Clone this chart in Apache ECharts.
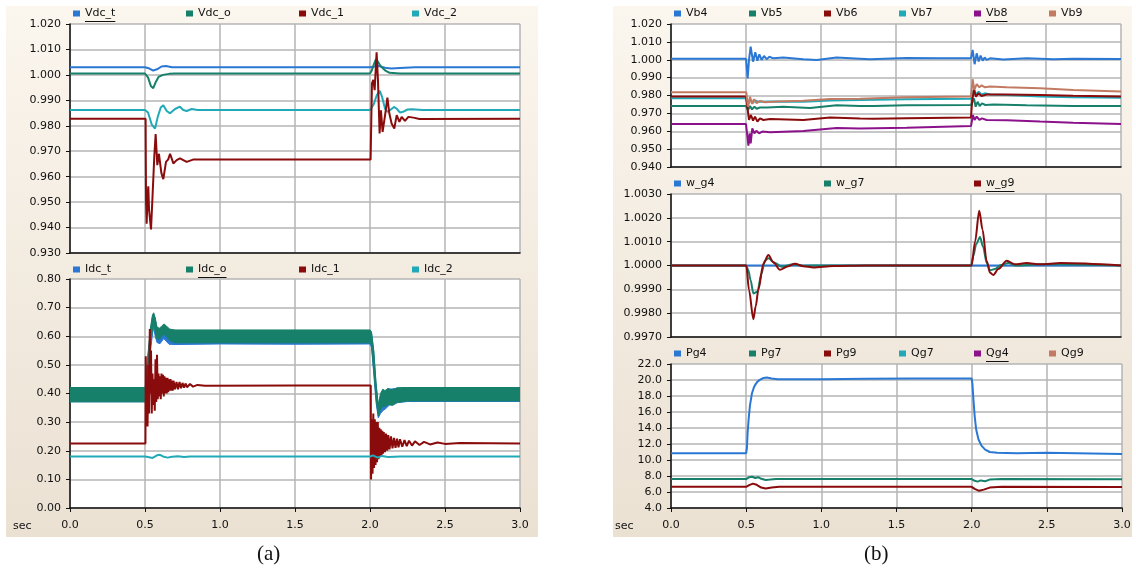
<!DOCTYPE html>
<html>
<head>
<meta charset="utf-8" />
<title>DC and AC quantities, time responses</title>
<script type="text/javascript" src="https://cdn.jsdelivr.net/npm/echarts@6.0.0/dist/echarts.min.js"></script>
<style>
  html, body { margin: 0; padding: 0; background: #ffffff; }
  #main { width: 1136px; height: 570px; }
</style>
</head>
<body>
<div id="main"></div>
<script type="text/javascript">
// ---- data ([sec, value]) ----
// (a) upper: DC voltages
var vdcT = [[0,1.003],[0.5,1.003],[0.53,1.0025],[0.555,1.0017],[0.58,1.0022],[0.61,1.0033],[0.64,1.0035],[0.68,1.003],[2.0,1.003],[2.03,1.0033],[2.06,1.0035],[2.1,1.0028],[2.14,1.0025],[2.2,1.0027],[2.3,1.003],[3.0,1.003]];
var vdcO = [[0,1.0005],[0.5,1.0005],[0.52,0.999],[0.54,0.9955],[0.555,0.9948],[0.57,0.997],[0.59,0.9992],[0.62,1.0],[0.66,1.0004],[0.7,1.0005],[2.0,1.0005],[2.01,1.0015],[2.025,1.004],[2.04,1.0062],[2.055,1.005],[2.07,1.0035],[2.1,1.0018],[2.13,1.0008],[2.2,1.0005],[3.0,1.0005]];
var vdc1 = [[0,0.9828],[0.504,0.9828],[0.507,0.95],[0.511,0.9415],[0.517,0.952],[0.522,0.9562],[0.527,0.947],[0.54,0.9393],[0.55,0.952],[0.562,0.968],[0.571,0.9767],[0.582,0.9645],[0.593,0.969],[0.609,0.9615],[0.622,0.959],[0.64,0.9658],[0.655,0.9668],[0.667,0.969],[0.689,0.9652],[0.711,0.9665],[0.733,0.9672],[0.778,0.9658],[0.82,0.9667],[2.004,0.9667],[2.013,0.9967],[2.022,0.998],[2.031,0.994],[2.044,1.0089],[2.053,0.998],[2.064,0.977],[2.073,0.9861],[2.084,0.9776],[2.102,0.9848],[2.116,0.9911],[2.129,0.9848],[2.144,0.9809],[2.162,0.9789],[2.178,0.9842],[2.196,0.9815],[2.211,0.9835],[2.233,0.9819],[2.256,0.9835],[2.289,0.9832],[2.33,0.9827],[3.0,0.9828]];
var vdc2 = [[0,0.9862],[0.5,0.9862],[0.52,0.9852],[0.545,0.9805],[0.567,0.9789],[0.585,0.9835],[0.605,0.9872],[0.622,0.9881],[0.645,0.9858],[0.667,0.9849],[0.7,0.9866],[0.733,0.9875],[0.755,0.9862],[0.778,0.9858],[0.811,0.9866],[0.85,0.9862],[2.0,0.9862],[2.01,0.9862],[2.025,0.9885],[2.045,0.992],[2.065,0.9937],[2.08,0.9915],[2.1,0.9868],[2.115,0.9855],[2.135,0.9862],[2.16,0.9874],[2.18,0.9866],[2.2,0.9852],[2.22,0.9855],[2.25,0.9864],[2.28,0.9865],[2.35,0.9862],[3.0,0.9862]];

// (a) lower: DC currents; ripple bands are [sec, low, high]
var idcTBand = [[0,0.371,0.42],[0.5,0.371,0.42],[0.505,0.38,0.43],[0.52,0.45,0.53],[0.535,0.54,0.615],[0.55,0.61,0.67],[0.558,0.63,0.675],[0.568,0.6,0.66],[0.58,0.578,0.625],[0.6,0.574,0.62],[0.625,0.592,0.635],[0.66,0.572,0.62],[0.7,0.571,0.618],[1.0,0.573,0.62],[1.5,0.572,0.62],[2.0,0.573,0.62],[2.01,0.562,0.612],[2.025,0.47,0.545],[2.04,0.37,0.43],[2.055,0.315,0.355],[2.07,0.33,0.39],[2.085,0.34,0.405],[2.1,0.345,0.4],[2.13,0.36,0.415],[2.18,0.368,0.418],[2.25,0.372,0.42],[3.0,0.372,0.42]];
var idcOBand = [[0,0.371,0.421],[0.5,0.371,0.421],[0.505,0.385,0.435],[0.52,0.46,0.54],[0.535,0.56,0.625],[0.55,0.625,0.675],[0.558,0.645,0.682],[0.568,0.615,0.665],[0.58,0.59,0.632],[0.597,0.59,0.628],[0.612,0.6,0.636],[0.627,0.608,0.643],[0.642,0.6,0.636],[0.665,0.585,0.625],[0.7,0.577,0.622],[1.0,0.577,0.622],[1.5,0.577,0.622],[2.0,0.577,0.622],[2.01,0.57,0.615],[2.025,0.48,0.55],[2.04,0.385,0.44],[2.055,0.322,0.36],[2.07,0.345,0.4],[2.085,0.355,0.415],[2.1,0.355,0.41],[2.12,0.362,0.418],[2.15,0.358,0.412],[2.18,0.368,0.42],[2.25,0.374,0.421],[3.0,0.374,0.421]];
var idc1 = [[0,0.225],[0.503,0.225],[0.505,0.53],[0.51,0.3],[0.513,0.45],[0.517,0.285],[0.522,0.5],[0.527,0.33],[0.532,0.625],[0.537,0.4],[0.54,0.55],[0.545,0.33],[0.55,0.47],[0.555,0.36],[0.56,0.45],[0.565,0.34],[0.57,0.52],[0.575,0.37],[0.58,0.535],[0.585,0.38],[0.59,0.47],[0.595,0.39],[0.6,0.46],[0.605,0.38],[0.61,0.47],[0.615,0.4],[0.62,0.465],[0.625,0.39],[0.63,0.46],[0.635,0.4],[0.64,0.455],[0.645,0.4],[0.65,0.455],[0.655,0.405],[0.66,0.45],[0.665,0.41],[0.67,0.45],[0.675,0.41],[0.68,0.445],[0.685,0.41],[0.69,0.445],[0.7,0.415],[0.71,0.44],[0.72,0.415],[0.73,0.44],[0.74,0.418],[0.75,0.437],[0.76,0.42],[0.77,0.435],[0.78,0.422],[0.8,0.433],[0.82,0.424],[0.85,0.43],[0.9,0.427],[1.5,0.428],[2.005,0.428],[2.007,0.1],[2.012,0.31],[2.017,0.12],[2.022,0.33],[2.027,0.14],[2.032,0.31],[2.037,0.15],[2.042,0.3],[2.047,0.16],[2.052,0.3],[2.057,0.17],[2.062,0.28],[2.067,0.18],[2.072,0.275],[2.077,0.185],[2.082,0.27],[2.087,0.19],[2.092,0.265],[2.1,0.195],[2.107,0.26],[2.115,0.2],[2.122,0.255],[2.13,0.205],[2.14,0.25],[2.15,0.208],[2.16,0.245],[2.17,0.21],[2.18,0.242],[2.19,0.212],[2.2,0.24],[2.215,0.214],[2.23,0.237],[2.245,0.216],[2.26,0.235],[2.28,0.218],[2.3,0.233],[2.33,0.22],[2.36,0.231],[2.4,0.222],[2.45,0.229],[2.5,0.224],[2.6,0.227],[3.0,0.225]];
var idc2 = [[0,0.18],[0.5,0.18],[0.52,0.178],[0.55,0.175],[0.58,0.184],[0.6,0.186],[0.62,0.18],[0.65,0.176],[0.68,0.179],[0.72,0.181],[0.76,0.178],[0.8,0.18],[2.0,0.18],[2.02,0.184],[2.05,0.176],[2.08,0.182],[2.12,0.178],[2.2,0.18],[3.0,0.18]];

// (b) upper: bus voltages
var vb4 = [[0,1.0005],[0.5,1.0005],[0.511,0.9896],[0.52,0.9999],[0.531,1.0073],[0.547,0.9989],[0.562,1.0042],[0.576,0.9995],[0.589,1.003],[0.604,0.9999],[0.62,1.0021],[0.638,1.0003],[0.656,1.0017],[0.682,1.0008],[0.749,1.0013],[0.882,1.0003],[0.971,0.9999],[1.104,1.0013],[1.26,1.0006],[1.327,1.0003],[1.571,1.001],[1.793,1.0008],[2.0,1.0008],[2.011,1.0055],[2.024,0.9975],[2.038,1.0036],[2.051,0.999],[2.064,1.0023],[2.078,0.9995],[2.091,1.0013],[2.104,0.9999],[2.127,1.0008],[2.216,1.0001],[2.371,1.0008],[2.549,1.0003],[2.682,1.0006],[3.0,1.0004]];
var vb5 = [[0,0.9741],[0.5,0.9741],[0.513,0.9718],[0.527,0.9741],[0.54,0.9722],[0.556,0.9737],[0.571,0.9726],[0.593,0.9733],[0.64,0.9733],[0.749,0.9737],[0.927,0.973],[1.104,0.9745],[1.26,0.9741],[1.35,0.9741],[1.57,0.9745],[2.0,0.9747],[2.02,0.9784],[2.031,0.9737],[2.044,0.9765],[2.058,0.9741],[2.073,0.9756],[2.096,0.9747],[2.15,0.975],[2.37,0.9745],[2.68,0.9741],[3.0,0.9741]];
var vb6 = [[0,0.9795],[0.5,0.9795],[0.52,0.9663],[0.533,0.9691],[0.547,0.966],[0.56,0.9682],[0.576,0.9654],[0.593,0.9672],[0.616,0.9663],[0.66,0.9668],[0.882,0.9663],[1.06,0.9677],[1.26,0.9672],[1.35,0.967],[1.57,0.9673],[2.0,0.9677],[2.008,0.9775],[2.02,0.9831],[2.033,0.9793],[2.049,0.9812],[2.07,0.9797],[2.104,0.9806],[2.24,0.9806],[2.46,0.9803],[2.68,0.9799],[3.0,0.9795]];
var vb7 = [[0,0.9784],[0.5,0.9784],[0.513,0.9747],[0.527,0.978],[0.542,0.9757],[0.56,0.9772],[0.582,0.9765],[0.66,0.9766],[0.882,0.9765],[1.06,0.9772],[1.26,0.9775],[1.57,0.9779],[2.0,0.9782],[2.02,0.9835],[2.036,0.9803],[2.051,0.9822],[2.069,0.9806],[2.091,0.9812],[2.13,0.9806],[2.24,0.9803],[2.46,0.9794],[2.68,0.979],[3.0,0.9788]];
var vb8 = [[0,0.964],[0.5,0.964],[0.516,0.9519],[0.524,0.9588],[0.531,0.9532],[0.542,0.9616],[0.556,0.9588],[0.569,0.9603],[0.587,0.9588],[0.609,0.9598],[0.66,0.9594],[0.882,0.9601],[1.104,0.9618],[1.26,0.9616],[1.57,0.962],[2.0,0.9629],[2.013,0.9691],[2.024,0.9663],[2.038,0.9682],[2.056,0.9663],[2.073,0.9672],[2.104,0.9663],[2.24,0.9661],[2.46,0.9654],[2.68,0.9648],[3.0,0.964]];
var vb9 = [[0,0.9818],[0.502,0.9818],[0.513,0.9737],[0.527,0.9793],[0.54,0.9753],[0.553,0.9779],[0.571,0.9757],[0.593,0.977],[0.627,0.9762],[0.704,0.9766],[0.882,0.977],[1.06,0.978],[1.26,0.9782],[1.571,0.979],[2.0,0.9795],[2.011,0.9891],[2.022,0.9831],[2.038,0.9864],[2.056,0.9846],[2.071,0.9857],[2.093,0.9846],[2.127,0.985],[2.238,0.9846],[2.46,0.984],[2.682,0.9831],[3.0,0.9823]];

// (b) middle: generator speeds
var wg4 = [[0,1.0],[0.5,1.0],[2.0,1.0],[3.0,1.0]];
var wg7 = [[0,1.0],[0.5,1.0],[0.516,0.9998],[0.53,0.9994],[0.549,0.99883],[0.575,0.9989],[0.604,0.99967],[0.625,1.0002],[0.649,1.0003],[0.693,1.0001],[0.738,0.99995],[0.816,1.00005],[0.88,0.99999],[1.0,1.0],[2.0,1.0],[2.015,1.0004],[2.035,1.0009],[2.06,1.0012],[2.08,1.0008],[2.105,1.0001],[2.127,0.9998],[2.16,0.99985],[2.2,1.00002],[2.249,1.0001],[2.3,1.0],[2.45,1.00005],[2.6,1.00005],[3.0,1.0]];
var wg9 = [[0,1.0],[0.502,1.0],[0.52,0.99897],[0.549,0.99774],[0.565,0.9983],[0.582,0.99897],[0.616,1.00007],[0.649,1.00044],[0.682,1.00014],[0.727,0.99982],[0.776,0.99996],[0.827,1.00007],[0.882,0.99997],[0.949,0.99992],[1.082,0.99998],[1.3,1.0],[2.004,1.0],[2.027,1.001],[2.055,1.0023],[2.077,1.0015],[2.104,1.0002],[2.127,0.9997],[2.149,0.9996],[2.182,0.99985],[2.238,1.0002],[2.293,1.00005],[2.371,1.0001],[2.46,1.00005],[2.6,1.0001],[3.0,1.0]];

// (b) lower: generator powers
var pg4 = [[0,10.85],[0.5,10.85],[0.505,11.5],[0.51,13.5],[0.516,15.0],[0.525,16.8],[0.538,18.3],[0.55,19.0],[0.56,19.4],[0.575,19.8],[0.593,20.05],[0.615,20.25],[0.638,20.3],[0.67,20.2],[0.71,20.1],[1.0,20.1],[1.3,20.15],[1.6,20.2],[2.0,20.2],[2.005,19.5],[2.012,17.5],[2.02,15.5],[2.03,13.8],[2.045,12.6],[2.065,11.8],[2.09,11.3],[2.12,11.0],[2.17,10.9],[2.3,10.85],[2.5,10.9],[3.0,10.75]];
var pg7 = [[0,7.62],[0.5,7.62],[0.52,7.85],[0.54,7.9],[0.56,7.75],[0.58,7.85],[0.6,7.65],[0.63,7.5],[0.66,7.55],[0.7,7.62],[2.0,7.62],[2.02,7.4],[2.04,7.3],[2.06,7.45],[2.09,7.35],[2.12,7.55],[2.2,7.62],[3.0,7.6]];
var pg9 = [[0,6.65],[0.5,6.65],[0.52,6.85],[0.545,7.05],[0.57,6.9],[0.6,6.55],[0.63,6.45],[0.67,6.55],[0.72,6.65],[2.0,6.65],[2.02,6.4],[2.05,6.15],[2.08,6.3],[2.12,6.55],[2.2,6.65],[3.0,6.62]];
var qg7 = [];
var qg4 = [];
var qg9 = [];

// axis ranges: [min, max, interval, decimals]
var yRanges = [[0.93, 1.02, 0.01, 3], [0, 0.8, 0.1, 2], [0.94, 1.02, 0.01, 3], [0.997, 1.003, 0.001, 4], [4, 22, 2, 1]];
var xTicks = [0, 0.5, 1.0, 1.5, 2.0, 2.5, 3.0];

// ---- chart ----
var C = { blue: '#2a78d4', teal: '#17806a', red: '#8a0b0b', cyan: '#22a9b8', purple: '#8b128b', brown: '#c27b62' };
var FONT = 'DejaVu Sans';
var TEXT = '#111';
var GRID_COLOR = '#b4b4b4';

var grids = [
    { left: 70, top: 24, width: 450, height: 229 },
    { left: 70, top: 279, width: 450, height: 229 },
    { left: 671, top: 24, width: 450, height: 143 },
    { left: 671, top: 194, width: 450, height: 143 },
    { left: 671, top: 364, width: 451, height: 144 }
];
grids.forEach(function (g) { g.show = true; g.backgroundColor = '#ffffff'; g.borderWidth = 0; });

var xAxes = grids.map(function (g, i) {
    var labelled = (i === 1 || i === 4);
    return {
        type: 'value', gridIndex: i, min: xTicks[0], max: xTicks[xTicks.length - 1], interval: 0.5,
        axisLine: { show: true, onZero: false, lineStyle: { color: '#111', width: 1.5 } },
        axisTick: { show: labelled, length: 4, lineStyle: { color: '#111' } },
        axisLabel: { show: labelled, margin: 12, color: TEXT, fontFamily: FONT, fontSize: 11,
            formatter: function (v) { return v.toFixed(1); } },
        splitLine: { show: true, lineStyle: { color: GRID_COLOR, width: 1.5 } }
    };
});

var yAxes = yRanges.map(function (r, i) {
    return {
        type: 'value', gridIndex: i, min: r[0], max: r[1], interval: r[2],
        axisLine: { show: true, onZero: false, lineStyle: { color: '#111', width: 1.5 } },
        axisTick: { show: true, length: 4, lineStyle: { color: '#111' } },
        axisLabel: { margin: 9, color: TEXT, fontFamily: FONT, fontSize: 11,
            formatter: function (v) { return v.toFixed(r[3]); } },
        splitLine: { show: true, lineStyle: { color: GRID_COLOR, width: 1.5 } }
    };
});

function line(name, data, color, gi, smooth) {
    return {
        name: name, type: 'line', xAxisIndex: gi, yAxisIndex: gi, data: data,
        showSymbol: false, symbol: 'none', smooth: smooth || false, smoothMonotone: 'x',
        lineStyle: { width: 2, color: color }, itemStyle: { color: color }
    };
}

// ripple band drawn as a filled polygon between low and high envelopes
function band(name, rows, color, gi) {
    return {
        name: name, type: 'custom', xAxisIndex: gi, yAxisIndex: gi,
        data: [[rows[0][0], rows[0][1]]], encode: { x: 0, y: 1 },
        itemStyle: { color: color }, clip: true,
        renderItem: function (params, api) {
            var top = rows.map(function (p) { return api.coord([p[0], p[2]]); });
            var bottom = rows.slice().reverse().map(function (p) { return api.coord([p[0], p[1]]); });
            return { type: 'polygon', shape: { points: top.concat(bottom) },
                style: { fill: color, stroke: color, lineWidth: 1 } };
        }
    };
}

var series = [
    line('Vdc_t', vdcT, C.blue, 0),
    line('Vdc_o', vdcO, C.teal, 0),
    line('Vdc_2', vdc2, C.cyan, 0),
    line('Vdc_1', vdc1, C.red, 0),
    band('Idc_t', idcTBand, C.blue, 1),
    band('Idc_o', idcOBand, C.teal, 1),
    line('Idc_1', idc1, C.red, 1),
    line('Idc_2', idc2, C.cyan, 1),
    line('Vb4', vb4, C.blue, 2),
    line('Vb5', vb5, C.teal, 2),
    line('Vb7', vb7, C.cyan, 2),
    line('Vb6', vb6, C.red, 2),
    line('Vb8', vb8, C.purple, 2),
    line('Vb9', vb9, C.brown, 2),
    line('w_g4', wg4, C.blue, 3),
    line('w_g7', wg7, C.teal, 3, 0.3),
    line('w_g9', wg9, C.red, 3, 0.3),
    line('Pg4', pg4, C.blue, 4),
    line('Pg7', pg7, C.teal, 4),
    line('Pg9', pg9, C.red, 4),
    line('Qg7', qg7, C.cyan, 4),
    line('Qg4', qg4, C.purple, 4),
    line('Qg9', qg9, C.brown, 4)
];

// one legend component per entry so the items sit on a fixed pitch
var legendRows = [
    { names: ['Vdc_t', 'Vdc_o', 'Vdc_1', 'Vdc_2'], x0: 73, dx: 113, y: 15 },
    { names: ['Idc_t', 'Idc_o', 'Idc_1', 'Idc_2'], x0: 73, dx: 113, y: 271 },
    { names: ['Vb4', 'Vb5', 'Vb6', 'Vb7', 'Vb8', 'Vb9'], x0: 674, dx: 75, y: 15 },
    { names: ['w_g4', 'w_g7', 'w_g9'], x0: 674, dx: 150, y: 185 },
    { names: ['Pg4', 'Pg7', 'Pg9', 'Qg7', 'Qg4', 'Qg9'], x0: 674, dx: 75, y: 355 }
];
var underlined = ['Vdc_t', 'Idc_o', 'Vb8', 'w_g9', 'Qg4'];
var legends = [];
var graphics = [
    { type: 'rect', z: -10, shape: { x: 6, y: 6, width: 532, height: 531 },
      style: { fill: new echarts.graphic.LinearGradient(0, 0, 0, 1, [{ offset: 0, color: '#fbf6ee' }, { offset: 1, color: '#ebe1d3' }]) } },
    { type: 'rect', z: -10, shape: { x: 613, y: 6, width: 519, height: 531 },
      style: { fill: new echarts.graphic.LinearGradient(0, 0, 0, 1, [{ offset: 0, color: '#fbf6ee' }, { offset: 1, color: '#ebe1d3' }]) } }
];
legendRows.forEach(function (row) {
    row.names.forEach(function (n, k) {
        var x = row.x0 + k * row.dx;
        legends.push({
            data: [n], left: x, top: row.y - 7, padding: 0, itemGap: 0,
            icon: 'rect', itemWidth: 7, itemHeight: 6,
            textStyle: { color: TEXT, fontFamily: FONT, fontSize: 11 }
        });
        if (underlined.indexOf(n) >= 0) {
            var w = echarts.format.getTextRect ? echarts.format.getTextRect(n, '11px ' + FONT).width : n.length * 7;
            graphics.push({ type: 'line', shape: { x1: x + 12, y1: row.y + 6.5, x2: x + 12 + w, y2: row.y + 6.5 },
                style: { stroke: TEXT, lineWidth: 1 } });
        }
    });
});

graphics.push(
    { type: 'text', left: 13, top: 521, style: { text: 'sec', fill: TEXT, font: '11px "DejaVu Sans"' } },
    { type: 'text', left: 615, top: 521, style: { text: 'sec', fill: TEXT, font: '11px "DejaVu Sans"' } },
    { type: 'text', left: 257, top: 544, style: { text: '(a)', fill: '#111', font: '21px "Liberation Serif"' } },
    { type: 'text', left: 864, top: 544, style: { text: '(b)', fill: '#111', font: '21px "Liberation Serif"' } }
);

var myChart = echarts.init(document.getElementById('main'));
myChart.setOption({
    animation: false,
    backgroundColor: '#ffffff',
    grid: grids,
    xAxis: xAxes,
    yAxis: yAxes,
    legend: legends,
    graphic: graphics,
    series: series
});
</script>
</body>
</html>
